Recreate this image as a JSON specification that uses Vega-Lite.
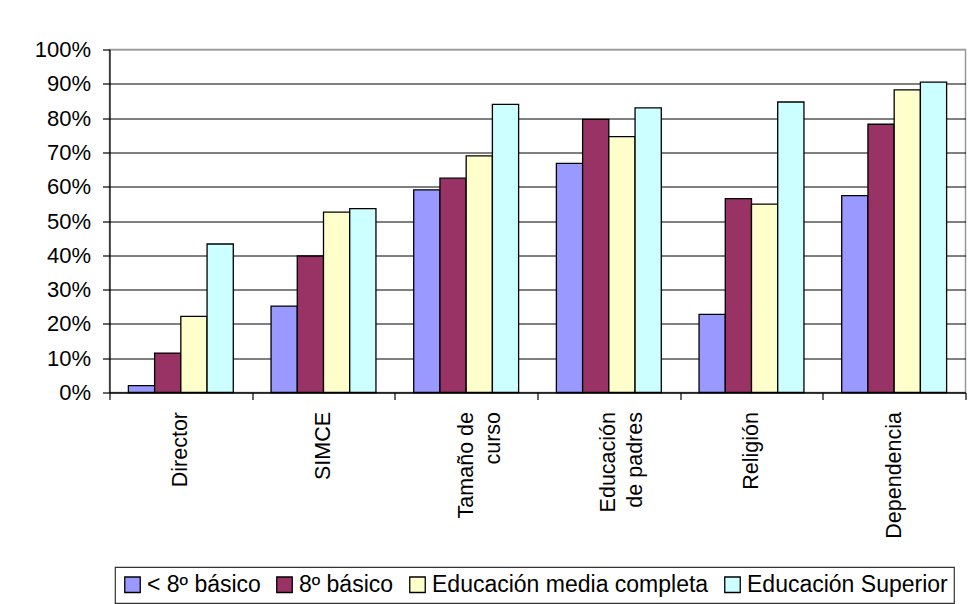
{
  "$schema": "https://vega.github.io/schema/vega-lite/v6.json",
  "autosize": "none",
  "width": 856,
  "height": 343,
  "padding": {"left": 109.5, "top": 49.5, "right": 7.5, "bottom": 211.5},
  "background": "white",
  "config": {
    "font": "Liberation Sans",
    "view": {"stroke": "#999999", "strokeWidth": 1.5},
    "axis": {"labelColor": "#000000", "labelFont": "Liberation Sans", "domainColor": "#000000", "tickColor": "#000000", "domainWidth": 1.2, "tickWidth": 1.2},
    "legend": {"strokeColor": "#333333", "strokeWidth": 1.2}
  },
  "data": {
    "values": [
      {"factor": "Director", "nivel": "< 8º básico", "valor": 0.020},
      {"factor": "Director", "nivel": "8º básico", "valor": 0.115},
      {"factor": "Director", "nivel": "Educación media completa", "valor": 0.222},
      {"factor": "Director", "nivel": "Educación Superior", "valor": 0.433},
      {"factor": "SIMCE", "nivel": "< 8º básico", "valor": 0.252},
      {"factor": "SIMCE", "nivel": "8º básico", "valor": 0.398},
      {"factor": "SIMCE", "nivel": "Educación media completa", "valor": 0.526},
      {"factor": "SIMCE", "nivel": "Educación Superior", "valor": 0.536},
      {"factor": "Tamaño de curso", "nivel": "< 8º básico", "valor": 0.591},
      {"factor": "Tamaño de curso", "nivel": "8º básico", "valor": 0.625},
      {"factor": "Tamaño de curso", "nivel": "Educación media completa", "valor": 0.690},
      {"factor": "Tamaño de curso", "nivel": "Educación Superior", "valor": 0.840},
      {"factor": "Educación de padres", "nivel": "< 8º básico", "valor": 0.668},
      {"factor": "Educación de padres", "nivel": "8º básico", "valor": 0.796},
      {"factor": "Educación de padres", "nivel": "Educación media completa", "valor": 0.746},
      {"factor": "Educación de padres", "nivel": "Educación Superior", "valor": 0.830},
      {"factor": "Religión", "nivel": "< 8º básico", "valor": 0.228},
      {"factor": "Religión", "nivel": "8º básico", "valor": 0.565},
      {"factor": "Religión", "nivel": "Educación media completa", "valor": 0.549},
      {"factor": "Religión", "nivel": "Educación Superior", "valor": 0.847},
      {"factor": "Dependencia", "nivel": "< 8º básico", "valor": 0.574},
      {"factor": "Dependencia", "nivel": "8º básico", "valor": 0.782},
      {"factor": "Dependencia", "nivel": "Educación media completa", "valor": 0.882},
      {"factor": "Dependencia", "nivel": "Educación Superior", "valor": 0.905}
    ]
  },
  "mark": {"type": "bar", "stroke": "#000000", "strokeWidth": 1.3},
  "encoding": {
    "x": {
      "field": "factor",
      "type": "nominal",
      "sort": null,
      "scale": {"paddingInner": 0, "paddingOuter": 0},
      "axis": {
        "title": null,
        "labelAngle": -90,
        "labelFontSize": 21.5,
        "labelLineHeight": 27,
        "tickBand": "extent",
        "tickSize": 7,
        "labelPadding": 12,
        "labelExpr": "datum.value == 'Tamaño de curso' ? ['Tamaño de', 'curso\u00a0\u00a0\u00a0\u00a0\u00a0'] : datum.value == 'Educación de padres' ? ['Educación', 'de padres'] : datum.value",
        "labelLimit": 300
      }
    },
    "xOffset": {
      "field": "nivel",
      "type": "nominal",
      "sort": null,
      "scale": {"paddingOuter": 0.72, "paddingInner": 0}
    },
    "y": {
      "field": "valor",
      "type": "quantitative",
      "scale": {"domain": [0, 1], "nice": false},
      "axis": {
        "title": null,
        "values": [0, 0.1, 0.2, 0.3, 0.4, 0.5, 0.6, 0.7, 0.8, 0.9, 1],
        "format": ".0%",
        "labelFontSize": 22,
        "tickSize": 7,
        "labelPadding": 12,
        "grid": true,
        "gridColor": {"condition": {"test": "datum.value == 1", "value": "#999999"}, "value": "#000000"},
        "gridWidth": 1
      }
    },
    "color": {
      "field": "nivel",
      "type": "nominal",
      "sort": null,
      "scale": {
        "domain": ["< 8º básico", "8º básico", "Educación media completa", "Educación Superior"],
        "range": ["#9999FF", "#993366", "#FFFFCC", "#CCFFFF"]
      },
      "legend": {
        "title": null,
        "orient": "none",
        "legendX": 5.5,
        "legendY": 517.5,
        "direction": "horizontal",
        "columns": 4,
        "symbolType": "square",
        "symbolSize": 240,
        "symbolStrokeColor": "#000000",
        "symbolStrokeWidth": 1.3,
        "symbolOpacity": 1,
        "labelFontSize": 23,
        "labelColor": "#000000",
        "labelFont": "Liberation Sans",
        "labelOffset": 3,
        "labelLimit": 400,
        "columnPadding": 12,
        "padding": 6
      }
    }
  }
}
